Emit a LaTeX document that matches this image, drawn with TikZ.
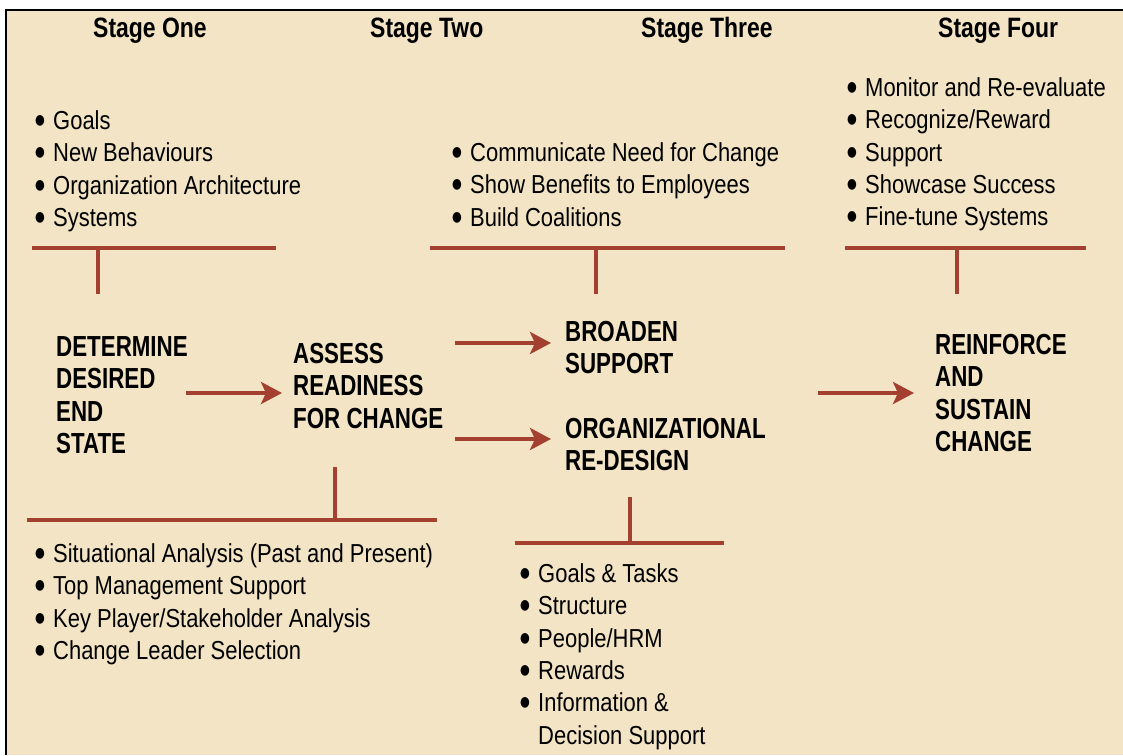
\documentclass[tikz,border=0pt]{standalone}
\usepackage{fontspec}
\setmainfont{Liberation Sans}
\newfontfamily\regfont[FakeStretch=0.845]{Liberation Sans}
\newfontfamily\lblfont[FakeStretch=0.77]{Liberation Sans Bold}
\newfontfamily\hdrfont[FakeStretch=0.82]{Liberation Sans Bold}
\newfontfamily\bulfont[FakeStretch=0.8]{DejaVu Sans}
\usetikzlibrary{arrows.meta}
\definecolor{bg}{RGB}{242,228,196}
\definecolor{rust}{RGB}{163,64,47}
\newcommand\mystrut{\rule{0pt}{24pt}}
\newcommand\bul{\makebox[18pt][l]{\raisebox{5pt}{\bulfont\fontsize{14}{14}\selectfont ●}}}
\tikzset{
  hdr/.style={anchor=base west, inner sep=0pt, font=\hdrfont\fontsize{28}{32}\selectfont},
  lbl/.style={anchor=north west, inner sep=0pt, align=left, font=\lblfont\fontsize{29}{32.5}\selectfont},
  lst/.style={anchor=north west, inner sep=0pt, align=left, font=\regfont\fontsize{26}{32.4}\selectfont},
  bar/.style={draw=rust, line width=4pt},
  arr/.style={draw=rust, line width=4pt, -{Stealth[length=21pt,width=22pt,inset=5pt]}},
}
\begin{document}
\begin{tikzpicture}[x=1pt,y=-1pt]
\useasboundingbox (0,0) rectangle (1123,755);
\fill[white] (0,0) rectangle (1123,755);
\fill[bg] (6,10) rectangle (1123,755);
\draw[black, line width=2pt] (6,755) -- (6,10) -- (1123,10);

% stage headers
\node[hdr] (h1) at (93,37) {Stage One};
\node[hdr] (h2) at (370,37) {Stage Two};
\node[hdr] (h3) at (641,37) {Stage Three};
\node[hdr] (h4) at (938,37) {Stage Four};

% bullet lists
\node[lst] (l1) at (35,105) {\mystrut\bul Goals\\\bul New Behaviours\\\bul Organization Architecture\\\bul Systems};
\node[lst] (l3) at (452,137) {\mystrut\bul Communicate Need for Change\\\bul Show Benefits to Employees\\\bul Build Coalitions};
\node[lst] (l4) at (847,72) {\mystrut\bul Monitor and Re-evaluate\\\bul Recognize/Reward\\\bul Support\\\bul Showcase Success\\\bul Fine-tune Systems};
\node[lst] (l2) at (35,538) {\mystrut\bul Situational Analysis (Past and Present)\\\bul Top Management Support\\\bul Key Player/Stakeholder Analysis\\\bul Change Leader Selection};
\node[lst] (l5) at (520,558) {\mystrut\bul Goals \& Tasks\\\bul Structure\\\bul People/HRM\\\bul Rewards\\\bul Information \&\\\hspace*{18pt}Decision Support};

% stage labels
\node[lbl] (det) at (56,332) {\mystrut DETERMINE\\DESIRED\\END\\STATE};
\node[lbl] (ass) at (293,339) {\mystrut ASSESS\\READINESS\\FOR CHANGE};
\node[lbl] (bro) at (565,317) {\mystrut BROADEN\\SUPPORT};
\node[lbl] (org) at (565,414) {\mystrut ORGANIZATIONAL\\RE-DESIGN};
\node[lbl] (rei) at (935,330) {\mystrut REINFORCE\\AND\\SUSTAIN\\CHANGE};

% T-bars
\coordinate (t1l) at (32,248);  \coordinate (t1r) at (276,248);
\coordinate (t1m) at (98,248);  \coordinate (t1s) at (98,294);
\coordinate (t3l) at (430,248); \coordinate (t3r) at (785,248);
\coordinate (t3m) at (596,248); \coordinate (t3s) at (596,294);
\coordinate (t4l) at (845,248); \coordinate (t4r) at (1086,248);
\coordinate (t4m) at (957,248); \coordinate (t4s) at (957,294);
\coordinate (t2l) at (27,520);  \coordinate (t2r) at (437,520);
\coordinate (t2m) at (335,520); \coordinate (t2s) at (335,467);
\coordinate (t5l) at (515,543); \coordinate (t5r) at (724,543);
\coordinate (t5m) at (630,543); \coordinate (t5s) at (630,497);
\foreach \k in {1,2,3,4,5}{
  \draw[bar] (t\k l) -- (t\k r);
  \draw[bar] (t\k m) -- (t\k s);
}

% arrows
\coordinate (a1s) at (186,393); \coordinate (a1e) at (282,393);
\coordinate (a2s) at (455,343); \coordinate (a2e) at (551,343);
\coordinate (a3s) at (455,439); \coordinate (a3e) at (551,439);
\coordinate (a4s) at (818,393); \coordinate (a4e) at (914,393);
\draw[arr] (a1s) -- (a1e);
\draw[arr] (a2s) -- (a2e);
\draw[arr] (a3s) -- (a3e);
\draw[arr] (a4s) -- (a4e);
\end{tikzpicture}
\end{document}
